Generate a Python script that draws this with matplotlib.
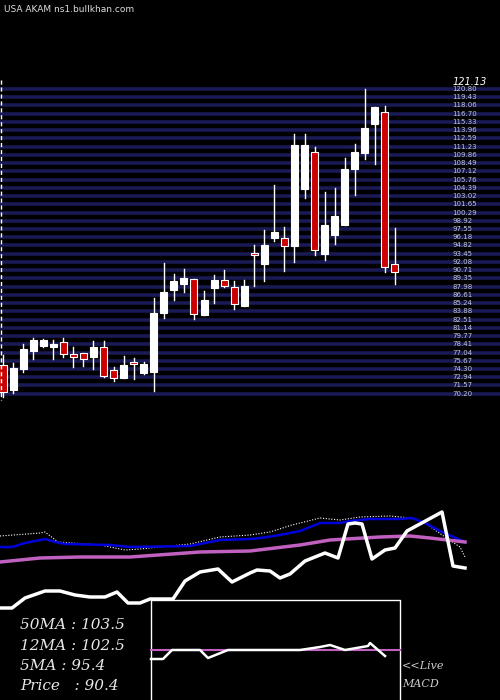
import matplotlib
matplotlib.use("Agg")
import matplotlib.pyplot as plt
import numpy as np
from matplotlib.patches import Rectangle

opens  = [74.96,70.8,74.3,77.3,78.1,77.9,78.8,76.8,76.9,76.3,77.9,74.1,72.8,75.4,73.6,73.8,83.6,87.4,88.4,89.2,
          83.3,87.7,89.1,87.9,84.8,93.4,91.7,96.1,96.1,94.7,104.2,110.3,93.4,96.6,98.2,107.5,110.2,115.0,117.0,91.7]
closes = [70.48,74.5,77.6,79.1,79.1,78.4,76.8,76.3,75.9,77.9,73.1,72.8,74.9,75.1,75.1,83.6,87.1,88.9,89.4,83.4,
          85.8,89.1,88.1,85.1,88.1,93.3,94.9,97.1,94.7,111.5,111.5,94.1,98.2,99.7,107.5,110.3,114.3,117.8,91.2,90.4]
highs  = [76.62,75.3,78.4,79.4,79.3,79.1,79.4,77.9,76.9,78.9,78.9,74.6,76.4,76.1,75.4,86.1,91.9,90.1,90.9,89.2,
          87.2,89.9,90.7,88.9,89.1,94.9,97.4,104.8,97.9,113.3,113.3,111.1,103.7,104.3,109.3,111.7,120.8,117.8,118.0,97.7]
lows   = [69.65,70.3,73.8,75.9,77.9,75.9,76.3,74.6,74.8,74.3,72.97,72.3,72.8,72.6,73.5,70.6,82.8,85.8,87.1,82.6,
          83.3,85.3,87.9,84.2,84.8,88.1,88.9,95.6,90.6,92.1,102.7,93.2,92.4,95.1,98.2,103.2,109.2,108.3,90.4,88.4]

# lower panel series (image-pixel style units)
white_x = [0,12,25,45,60,75,90,105,117,128,140,150,173,185,200,218,232,250,257,270,280,290,305,325,338,348,355,362,372,385,395,407,442,453,465]
white_y = [608,608,598,591,591,595,597,597,592,603,603,599,599,581,572,569,582,573,570,571,578,574,561,553,558,524,523,524,559,550,548,531,512,566,568]
blue_x = [0,12,25,45,55,65,110,130,190,210,220,250,260,280,300,320,340,350,370,400,412,425,440,465]
blue_y = [547,547,543,539,542,544,545,547,546,542,540,539,538,535,531,523,523,521,519,519,518,523,531,542]
dot_x = [0,40,45,58,100,125,140,190,220,250,270,292,320,340,360,390,410,425,445,460,465]
dot_y = [536,533,532,542,545,550,549,544,537,535,532,525,518,520,517,516,518,523,537,547,557]
mag_x = [0,40,80,130,200,250,300,330,380,410,430,465]
mag_y = [562,558,557,557,552,551,545,540,537,536,538,542]
macd_x = [151,163,172,200,208,218,228,250,300,320,330,345,368,370,385]
macd_y = [659,659,650,650,658,654,650,650,650,647,645,650,646,643,656]

labels = ["50MA : 103.5", "12MA : 102.5", "5MA : 95.4", "Price   : 90.4"]
top_label = "121.13"
title = "USA AKAM ns1.bullkhan.com"

fig = plt.figure(figsize=(5, 7), dpi=100, facecolor="black")
ax = fig.add_axes([0, 1-400/700, 1, 320/700])
ax.set_facecolor("black")
ax.set_xlim(-0.3, 49.45)
ax.set_ylim(69.15, 122.3)
ax.axis("off")

grid = np.linspace(70.2, 120.8, 38)
for g in grid:
    ax.axhline(g, color="#1a1a55", lw=2.6, zorder=0)
    ax.text(44.7, g, f"{g:.2f}", color="white", fontsize=5, va="center", ha="left", alpha=0.75)
ax.text(44.7, 122.0, top_label, color="white", fontsize=7, va="center", ha="left", style="italic")

w = 0.7
for i, (o, c, h, l) in enumerate(zip(opens, closes, highs, lows)):
    ax.plot([i, i], [l, h], color="white", lw=1, zorder=2)
    red = c < o
    ax.add_patch(Rectangle((i - w/2, min(o, c)), w, max(abs(c - o), 0.3),
                           facecolor="#cc0000" if red else "white", edgecolor="white", lw=0.8, zorder=3))

ov = fig.add_axes([0, 0, 1, 1])
ov.set_xlim(0, 500); ov.set_ylim(700, 0); ov.axis("off"); ov.patch.set_alpha(0)
ov.plot([1, 1], [80, 400], color="white", lw=1, ls=(0, (3, 2)))
ov.plot(dot_x, dot_y, color="white", lw=0.8, ls=(0, (1, 1.5)))
ov.plot(blue_x, blue_y, color="#0000dd", lw=1.8)
ov.plot(mag_x, mag_y, color="#c060c0", lw=2.5)
ov.plot(white_x, white_y, color="white", lw=2.5)
ov.plot([151, 151, 400, 400], [700, 600, 600, 700], color="white", lw=1)
ov.plot([151, 400], [650, 650], color="#c060c0", lw=1.5)
ov.plot(macd_x, macd_y, color="white", lw=1.8)
for k, t in enumerate(labels):
    ov.text(20, 625 + k*20.5, t, color="#e8e8e8", fontsize=11, family="DejaVu Serif", style="italic", va="center")
ov.text(402, 666, "<<Live", color="#cccccc", fontsize=8, family="DejaVu Serif", style="italic", va="center")
ov.text(402, 684, "MACD", color="#cccccc", fontsize=8, family="DejaVu Serif", style="italic", va="center")
ov.text(4, 10, title, color="#dddddd", fontsize=6.5, va="center")

fig.savefig("out.png", dpi=100, facecolor="black")
